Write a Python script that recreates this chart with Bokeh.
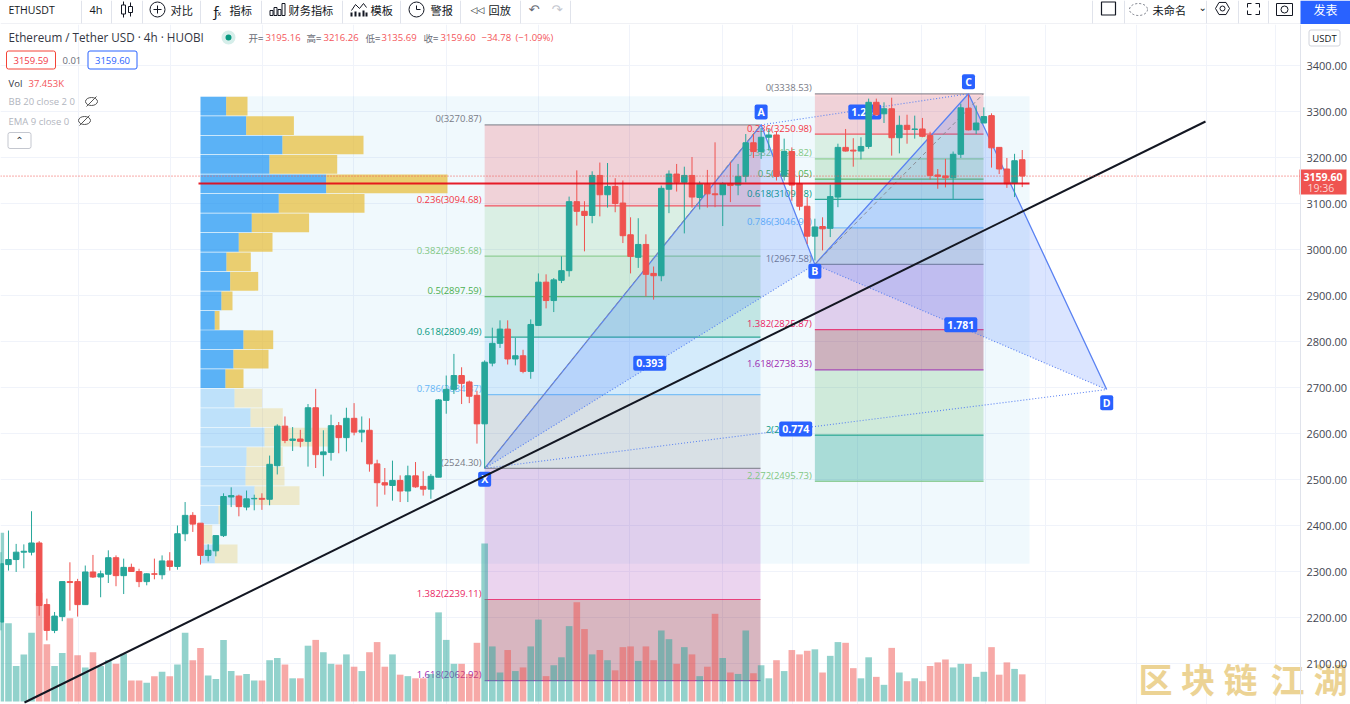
from bokeh.embed import file_html
from bokeh.resources import INLINE
from bokeh.plotting import figure
from bokeh.layouts import column
from bokeh.models import ColumnDataSource, FixedTicker, NumeralTickFormatter, Range1d, LinearAxis
from bokeh.core.properties import value

# ---------- market data ----------
opens = [2190,2315,2326,2342,2342,2362,2228,2172,2202,2278,2278,2228,2299,2288,2294,2330,2291,2309,2300,2278,
         2295,2293,2323,2311,2382,2422,2405,2335,2345,2378,2462,2464,2440,2458,2459,2457,2530,2616,2585,2588,
         2583,2656,2554,2559,2617,2591,2633,2603,2607,2534,2493,2487,2498,2475,2508,2485,2479,2505,2672,2696,
         2726,2712,2683,2621,2753,2796,2827,2762,2769,2735,2835,2929,2889,2933,2954,3104,3083,3074,3161,3119,
         3137,3101,3032,2983,3011,2948,2943,3131,3164,3146,3161,3113,3142,3121,3119,3143,3140,3159,3232,3213,
         3244,3249,3159,3213,3143,3094,3029,3050,3046,3114,3222,3216,3214,3224,3320,3295,3306,3243,3270,3261,
         3262,3248,3162,3160,3156,3207,3307,3260,3275,3291,3222,3175,3144,3195.16]
closes = [2317,2326,2342,2344,2362,2226,2172,2203,2278,2276,2228,2299,2288,2295,2330,2291,2309,2300,2278,2295,
          2294,2323,2311,2382,2422,2403,2335,2346,2378,2463,2465,2441,2458,2459,2457,2533,2616,2585,2588,2583,
          2656,2554,2560,2617,2591,2633,2603,2607,2534,2493,2488,2498,2475,2508,2484,2479,2507,2673,2696,2726,
          2709,2681,2621,2755,2796,2827,2762,2769,2735,2837,2929,2889,2934,2954,3104,3083,3074,3161,3119,3137,
          3100,3030,2985,3011,2946,2943,3133,3164,3146,3161,3114,3142,3121,3119,3143,3139,3159,3232,3213,3244,
          3249,3159,3213,3140,3094,3029,3049,3045,3115,3222,3214,3214,3224,3320,3293,3306,3243,3270,3261,3262,
          3246,3161,3159,3156,3207,3308,3260,3275,3289,3221,3175,3143,3193,3159.60]
highs = [2342,2389,2360,2359,2431,2366,2241,2212,2278,2320,2284,2313,2336,2302,2346,2335,2328,2317,2306,2296,
         2328,2335,2342,2400,2451,2429,2405,2359,2378,2470,2483,2467,2476,2467,2470,2552,2620,2637,2614,2608,
         2664,2697,2607,2641,2625,2656,2666,2637,2633,2543,2525,2541,2509,2530,2538,2518,2512,2675,2726,2773,
         2744,2715,2693,2759,2830,2846,2846,2808,2782,2848,2948,2946,2938,2985,3115,3172,3105,3170,3189,3188,
         3155,3150,3070,3068,3033,2963,3139,3172,3186,3180,3201,3148,3173,3233,3146,3190,3186,3251,3251,3264,
         3262,3257,3241,3222,3161,3114,3067,3070,3141,3230,3262,3242,3244,3328,3328,3320,3330,3291,3293,3291,
         3286,3256,3175,3197,3213,3317,3337,3313,3309,3296,3222,3199,3208,3216.26]
lows = [2172,2302,2299,2307,2335,2204,2150,2166,2192,2215,2202,2228,2286,2244,2275,2268,2251,2300,2266,2270,
        2283,2283,2302,2304,2366,2386,2315,2322,2333,2375,2440,2420,2433,2433,2434,2444,2511,2579,2562,2570,
        2528,2525,2507,2541,2557,2561,2596,2581,2517,2441,2467,2454,2451,2451,2482,2465,2458,2505,2643,2686,
        2664,2666,2578,2525,2746,2786,2750,2748,2731,2719,2835,2872,2864,2927,2941,3052,2996,3057,3072,3091,
        3081,3014,2948,2960,2898,2891,2931,3079,3126,3035,3091,3087,3091,3092,3051,3103,3118,3146,3199,3197,
        3215,3150,3150,3106,3085,3012,2976,2998,3027,3092,3213,3180,3196,3219,3291,3275,3204,3209,3230,3241,
        3244,3152,3132,3135,3110,3199,3259,3251,3275,3178,3164,3134,3114,3135.69]
volumes = [233,108,49,65,95,150,79,49,67,115,64,47,68,49,57,52,66,29,29,26,
           35,41,35,51,95,57,74,36,31,85,42,36,38,29,29,57,60,51,32,32,
           77,85,68,52,51,65,48,42,68,82,48,65,37,35,32,32,38,123,85,52,
           52,38,81,218,76,40,71,42,47,76,113,35,50,61,104,137,100,65,71,57,
           43,75,76,56,76,57,98,86,52,75,65,35,48,121,60,40,38,98,39,50,
           32,57,42,71,65,70,72,40,63,82,81,46,32,61,34,23,74,40,28,32,
           28,49,54,58,47,52,52,34,41,75,37,54,45,37.453]

# volume profile: rows from the top down
vp_up =   [25.7,45.7,82,69,125.7,78.3,51.3,38.3,26,29.7,21,14.3,43,33,25,34,50,64,46,45,54,18,1,14.3]
vp_down = [21.3,47.7,81,67.7,121.3,85.7,57.3,33.7,24.3,28,11,4.7,29.7,35,18,27.7,32.3,64.3,36.3,39,45,8.7,10.7,22.7]
vp_strong_rows = 15
vp_top_price, vp_bottom_price = 3333.0, 2317.0

# fibonacci tools
fib1_labels = ["0", "0.236", "0.382", "0.5", "0.618", "0.786", "1", "1.382", "1.618"]
fib1_prices = [3270.87, 3094.68, 2985.68, 2897.59, 2809.49, 2684.37, 2524.30, 2239.11, 2062.92]
fib2_labels = ["0", "0.236", "0.382", "0.5", "0.618", "0.786", "1", "1.382", "1.618", "2", "2.272"]
fib2_prices = [3338.53, 3250.98, 3196.82, 3153.05, 3109.18, 3046.96, 2967.58, 2825.87, 2738.33, 2596.62, 2495.73]

# XABCD pattern points: bar index, price
pat_names = ["X", "A", "B", "C", "D"]
pat_idx = [63, 99, 106, 126, 144]
pat_price = [2524.30, 3270.87, 2967.58, 3338.53, 2695.6]

last_price = 3159.60
poc_price = 3143.5
price_ticks = [2100, 2200, 2300, 2400, 2500, 2600, 2700, 2800, 2900, 3000, 3100, 3200, 3300, 3400]
v_grid_px = [78, 170, 262, 353, 446, 538, 629, 722, 792, 857, 921, 985, 1045, 1136, 1206, 1275]

GREEN, RED, BLUE = "#26a69a", "#ef5350", "#2962ff"
LAT, CJK = value("Open Sans"), value("Noto Sans CJK SC")
GRID = "#f0f3fa"

# ---------- pixel helpers for the non-data furniture ----------
X0, DX = 0.3, 7.68
def ix(px): return (px - X0) / DX
def pr(py): return 3400 - (py - 65) / 0.46

# ---------- top toolbar ----------
top = figure(width=1350, height=24, x_range=Range1d(0, 1350), y_range=Range1d(24, 0),
             x_axis_location=None, y_axis_location=None, toolbar_location=None,
             output_backend="svg", min_border=0, outline_line_color=None)
top.grid.visible = False

def ttext(x, s, size="11.2px", color="#131722", font=CJK, align="left", style="normal", y=9):
    top.text([x], [y], text=[s], text_font=font, text_font_size=size, text_color=color,
             text_align=align, text_baseline="middle", text_font_style=style)

top.segment(x0=[0], y0=[23.5], x1=[1350], y1=[23.5], line_color="#e0e3eb", line_width=1)
for sx in [81, 111, 142, 200, 261, 342, 400, 460, 520, 570, 1092, 1124, 1206, 1238, 1268]:
    top.segment(x0=[sx], y0=[0], x1=[sx], y1=[23], line_color="#e0e3eb", line_width=1)
ttext(8, "ETHUSDT", "10.5px", font=LAT)
ttext(89, "4h", "11px", font=LAT)
# candle icon
top.segment(x0=[123, 130], y0=[1, 2], x1=[123, 130], y1=[17, 16], line_color="#131722")
top.rect(x=[123, 130], y=[9, 9], width=4, height=[9, 6], fill_color="white", line_color="#131722")
# add icon
top.scatter([157], [9], size=15, marker="circle", fill_color=None, line_color="#131722")
top.segment(x0=[153, 157], y0=[9, 5], x1=[161, 157], y1=[9, 13], line_color="#131722")
ttext(170, "对比")
ttext(211, "ƒ", "15px", font=LAT)
ttext(217, "x", "7px", font=LAT, y=13)
ttext(229, "指标")
# bars icon
top.vbar(x=[271, 275, 279, 283], bottom=[15, 15, 15, 15], top=[10, 7, 9, 3], width=3,
         fill_color="white", line_color="#131722")
ttext(288, "财务指标")
top.line([351, 355, 359, 363, 366], [10, 4, 8, 3, 7], line_color="#131722")
top.segment(x0=[351, 355, 359, 363, 366], y0=[12, 11, 12, 10, 12], x1=[351, 355, 359, 363, 366],
            y1=[16, 16, 16, 16, 16], line_color="#131722", line_width=2)
ttext(370, "模板")
top.scatter([416], [9], size=15, marker="circle", fill_color=None, line_color="#131722")
top.segment(x0=[416, 416], y0=[5, 9], x1=[416, 420], y1=[9, 9], line_color="#131722")
ttext(430, "警报")
ttext(470, "◁◁", "9px", font=value("DejaVu Sans"))
ttext(488, "回放")
ttext(528, "↶", "13px", font=value("DejaVu Sans"), color="#6a6d78")
ttext(551, "↷", "13px", font=value("DejaVu Sans"), color="#c4c7cf")
top.rect(x=[1108], y=[8], width=14, height=13, fill_color="white", line_color="#131722", line_width=1.2)
top.ellipse(x=[1138], y=[9], width=18, height=12, fill_color="white", line_color="#777b86", line_dash="2 2")
ttext(1152, "未命名")
ttext(1198, "⌄", "10px", font=value("DejaVu Sans"), y=7)
top.scatter([1222], [8], size=14, marker="hex", fill_color="white", line_color="#131722")
top.scatter([1222], [8], size=5, marker="circle", fill_color="white", line_color="#131722")
for a, b, c, d in [(1247, 3, 1247, 7), (1247, 3, 1251, 3), (1259, 3, 1255, 3), (1259, 3, 1259, 7),
                   (1247, 14, 1247, 10), (1247, 14, 1251, 14), (1259, 14, 1255, 14), (1259, 14, 1259, 10)]:
    top.segment(x0=[a], y0=[b], x1=[c], y1=[d], line_color="#131722")
top.rect(x=[1284], y=[9], width=16, height=12, fill_color="white", line_color="#131722")
top.scatter([1284], [9], size=7, marker="circle", fill_color="white", line_color="#131722")
top.rect(x=[1325], y=[12], width=50, height=24, fill_color=BLUE, line_color=None)
ttext(1325, "发表", "12px", "#ffffff", align="center", y=9)

# ---------- main chart ----------
p = figure(width=1350, height=680, x_range=Range1d(ix(0), ix(1350)), y_range=Range1d(pr(704), pr(24)),
           x_axis_location=None, y_axis_location=None, toolbar_location=None, output_backend="svg",
           min_border=0, outline_line_color=None, background_fill_color="white")
p.extra_y_ranges = {"vol": Range1d(-4.14, 934.3)}
axis = LinearAxis(fixed_location=ix(1300), ticker=FixedTicker(ticks=price_ticks),
                  formatter=NumeralTickFormatter(format="0.00"), axis_line_color="#e0e3eb",
                  major_tick_out=0, major_tick_in=0, minor_tick_line_color=None, major_label_standoff=6,
                  major_label_text_font="Open Sans", major_label_text_font_size="11px",
                  major_label_text_color="#434651")
p.add_layout(axis, "right")
p.ygrid.ticker = FixedTicker(ticks=price_ticks)
p.ygrid.grid_line_color = GRID
p.xgrid.ticker = FixedTicker(ticks=[ix(v) for v in v_grid_px])
p.xgrid.grid_line_color = GRID

n = len(opens)
bars = list(range(n))
is_up = [c >= o for o, c in zip(opens, closes)]
colors = [GREEN if u else RED for u in is_up]
src = ColumnDataSource(dict(x=bars, o=opens, c=closes, h=highs, l=lows, v=volumes, col=colors,
                            top=[max(a, b) for a, b in zip(opens, closes)],
                            bot=[min(a, b) for a, b in zip(opens, closes)]))

# the price strip carries no grid
p.quad(left=[ix(1300)], right=[ix(1350)], top=[pr(24)], bottom=[pr(704)], fill_color="white", line_color=None)

# background of the profile tool
p.quad(left=[26], right=[ix(1029)], top=[vp_top_price], bottom=[vp_bottom_price],
       fill_color="#2fa6e0", fill_alpha=0.07, line_color=None)

# volume profile rows
rows = len(vp_up)
step = (vp_top_price - vp_bottom_price) / rows
vp_t = [vp_top_price - i * step - 0.8 for i in range(rows)]
vp_b = [vp_top_price - (i + 1) * step + 0.8 for i in range(rows)]
vp_l = ix(200)
vp_m = [vp_l + u / DX for u in vp_up]
vp_r = [m + d / DX for m, d in zip(vp_m, vp_down)]
a_up = [0.72 if i < vp_strong_rows else 0.24 for i in range(rows)]
a_dn = [0.68 if i < vp_strong_rows else 0.24 for i in range(rows)]
p.quad(left=[vp_l] * rows, right=vp_m, top=vp_t, bottom=vp_b, fill_color="#2196f3", fill_alpha=a_up, line_color=None)
p.quad(left=vp_m, right=vp_r, top=vp_t, bottom=vp_b, fill_color="#e8ba2c", fill_alpha=a_dn, line_color=None)

# fib tools
f1_band = [("#f23645", .2), ("#81c784", .2), ("#4caf50", .2), ("#089981", .2), ("#64b5f6", .2), ("#787b86", .2),
           ("#9c27b0", .2), ("#7f0e2f", .3)]
f2_band = f1_band + [("#4caf50", .2), ("#089981", .3)]
lvl_col = {"0": "#787b86", "0.236": "#f23645", "0.382": "#81c784", "0.5": "#4caf50", "0.618": "#089981",
           "0.786": "#64b5f6", "1": "#787b86", "1.382": "#e91e63", "1.618": "#9c27b0", "2": "#089981",
           "2.272": "#81c784"}

def fib(labels, prices, bands, i0, i1):
    for j, (c, a) in enumerate(bands):
        p.quad(left=[i0], right=[i1], top=[prices[j]], bottom=[prices[j + 1]], fill_color=c, fill_alpha=a, line_color=None)
    p.segment(x0=[i0] * len(prices), x1=[i1] * len(prices), y0=prices, y1=prices,
              line_color=[lvl_col[s] for s in labels], line_width=1.2, line_alpha=0.8)
    p.text([i0 - 0.4] * len(prices), prices, text=[f"{s}({v:.2f})" for s, v in zip(labels, prices)],
           text_align="right", text_baseline="middle", y_offset=-6, text_font=LAT, text_font_size="9.5px",
           text_color=[lvl_col[s] for s in labels])

fib(fib1_labels, fib1_prices, f1_band, pat_idx[0], ix(760))
fib(fib2_labels, fib2_prices, f2_band, pat_idx[2], ix(983))

# XABCD
xi, yi = pat_idx, pat_price
p.patch([xi[0], xi[1], xi[2]], [yi[0], yi[1], yi[2]], fill_color=BLUE, fill_alpha=0.17, line_color=None)
p.patch([xi[2], xi[3], xi[4]], [yi[2], yi[3], yi[4]], fill_color=BLUE, fill_alpha=0.17, line_color=None)
p.line([xi[0], xi[1], xi[2], xi[3], xi[4]], [yi[0], yi[1], yi[2], yi[3], yi[4]], line_color="#5a82f2", line_width=1.3)
for a, b in [(0, 2), (1, 3), (2, 4), (0, 4)]:
    p.line([xi[a], xi[b]], [yi[a], yi[b]], line_color="#5a82f2", line_width=1.1, line_dash="1 2")
p.line([xi[2], ix(983)], [yi[2], fib2_prices[0]], line_color="#8a8d96", line_width=1, line_dash="4 3")
p.line([xi[0], ix(760)], [yi[0], fib1_prices[0]], line_color="#8a8d96", line_width=1, line_dash="4 3")

ratio_x = [(xi[0] + xi[2]) / 2, (xi[1] + xi[3]) / 2, (xi[2] + xi[4]) / 2, (xi[0] + xi[4]) / 2]
ratio_y = [(yi[0] + yi[2]) / 2 + 7, (yi[1] + yi[3]) / 2 - 6, (yi[2] + yi[4]) / 2 + 5, (yi[0] + yi[4]) / 2]
ratio_t = ["0.393", "1.224", "1.781", "0.774"]
p.rect(ratio_x, ratio_y, width=33, height=15, width_units="screen", height_units="screen",
       fill_color=BLUE, line_color=None, border_radius=2)
p.text(ratio_x, ratio_y, text=ratio_t, text_align="center", text_baseline="middle", text_color="white",
       text_font=LAT, text_font_size="10.5px", text_font_style="bold")

mark_x = xi
mark_y = [yi[0] - 24, yi[1] + 28, yi[2] - 15, yi[3] + 26, yi[4] - 29]
p.rect(mark_x, mark_y, width=13, height=15, width_units="screen", height_units="screen",
       fill_color=BLUE, line_color=None, border_radius=2)
p.text(mark_x, mark_y, text=pat_names, text_align="center", text_baseline="middle", text_color="white",
       text_font=LAT, text_font_size="10.5px", text_font_style="bold")

# volume, candles
p.vbar(x="x", top="v", bottom=0, width=0.86, source=src, y_range_name="vol", fill_color="col", fill_alpha=0.5,
       line_color=None)
p.segment(x0="x", x1="x", y0="l", y1="h", source=src, line_color="col", line_width=1)
p.vbar(x="x", top="top", bottom="bot", width=0.72, source=src, fill_color="col", line_color="col", line_width=1)

# horizontal rule, trend line and last price
p.segment(x0=[ix(198)], x1=[ix(1029)], y0=[poc_price], y1=[poc_price], line_color="#e40613", line_width=1.8, line_alpha=0.9)
p.line([ix(24), ix(1205)], [pr(702), pr(121)], line_color="#131722", line_width=2)
p.segment(x0=[ix(0)], x1=[ix(1300)], y0=[last_price], y1=[last_price], line_color=RED, line_width=1, line_dash="1 2")

# legend furniture
def txt(x, y, s, size="10px", color="#131722", font=LAT, style="normal", align="left"):
    p.text([ix(x)], [pr(y)], text=[s], text_font=font, text_font_size=size, text_color=color,
           text_align=align, text_baseline="middle", text_font_style=style)

txt(8, 36.5, "Ethereum / Tether USD · 4h · HUOBI", "11.7px", "#333642")
p.scatter([ix(228)], [pr(37)], size=14, marker="circle", fill_color="#d6eeea", line_color=None)
p.scatter([ix(228)], [pr(37)], size=6, marker="circle", fill_color="#089981", line_color=None)
ohlc_keys = [(248, "开="), (306, "高="), (365, "低="), (423, "收=")]
for x_, s_ in ohlc_keys:
    txt(x_, 37, s_, "9.5px", "#6a6d78", CJK)
for x_, s_ in [(265, "3195.16"), (323, "3216.26"), (381, "3135.69"), (440, "3159.60"), (481, "−34.78"), (515, "(−1.09%)")]:
    txt(x_, 37, s_, "9.5px", "#f4555a")

p.rect([ix(30.5)], [pr(59.5)], width=49, height=18, width_units="screen", height_units="screen",
       fill_color="white", line_color="#f44336", border_radius=2)
txt(30.5, 59.5, "3159.59", "9.5px", "#f23645", align="center")
txt(62, 59.5, "0.01", "9.5px", "#6a6d78")
p.rect([ix(112)], [pr(59.5)], width=49, height=18, width_units="screen", height_units="screen",
       fill_color="white", line_color="#2962ff", border_radius=2)
txt(112, 59.5, "3159.60", "9.5px", "#2962ff", align="center")
txt(8, 83, "Vol", "9.5px", "#333642")
txt(28, 83, "37.453K", "9.5px", "#f4555a")
txt(8, 101, "BB 20 close 2 0", "9.5px", "#b2b5be")
txt(8, 121, "EMA 9 close 0", "9.5px", "#b2b5be")
for ex in [91, 84]:
    ey = 101 if ex == 91 else 120
    p.ellipse([ix(ex)], [pr(ey)], width=12, height=8, width_units="screen", height_units="screen",
              fill_color=None, line_color="#555")
    p.segment(x0=[ix(ex - 5)], y0=[pr(ey + 5)], x1=[ix(ex + 5)], y1=[pr(ey - 5)], line_color="#555")
p.rect([ix(19)], [pr(140)], width=23, height=16, width_units="screen", height_units="screen",
       fill_color="white", line_color="#c4c7cf", border_radius=2)
txt(19, 140, "⌃", "10px", "#333642", value("DejaVu Sans"), align="center")

# price tag and currency button on the axis strip
p.quad(left=[ix(1299)], right=[ix(1346)], top=[pr(169)], bottom=[pr(194)], fill_color=RED, line_color=None)
txt(1322.5, 176.5, "3159.60", "10.5px", "white", style="bold", align="center")
txt(1307, 187.5, "19:36", "10.5px", "#fbd4d4")
p.rect([ix(1324)], [pr(37.5)], width=31, height=16, width_units="screen", height_units="screen",
       fill_color="white", line_color="#d1d4dc", border_radius=2)
txt(1324, 37.5, "USDT", "9.5px", "#131722", align="center")

# corner mark
mark_chars = list("区块链江湖")
mark_px = [1155, 1197.5, 1240, 1287, 1330]
p.text([ix(v) for v in mark_px], [pr(678)] * 5, text=mark_chars, text_color="#ecd394", text_font=CJK,
       text_font_size="34px", text_font_style="bold", text_align="center", text_baseline="middle")

page = column(top, p, spacing=0)
page.styles = {"position": "absolute", "left": "0px", "top": "0px"}

open("out.html", "w").write(file_html(page, INLINE))
